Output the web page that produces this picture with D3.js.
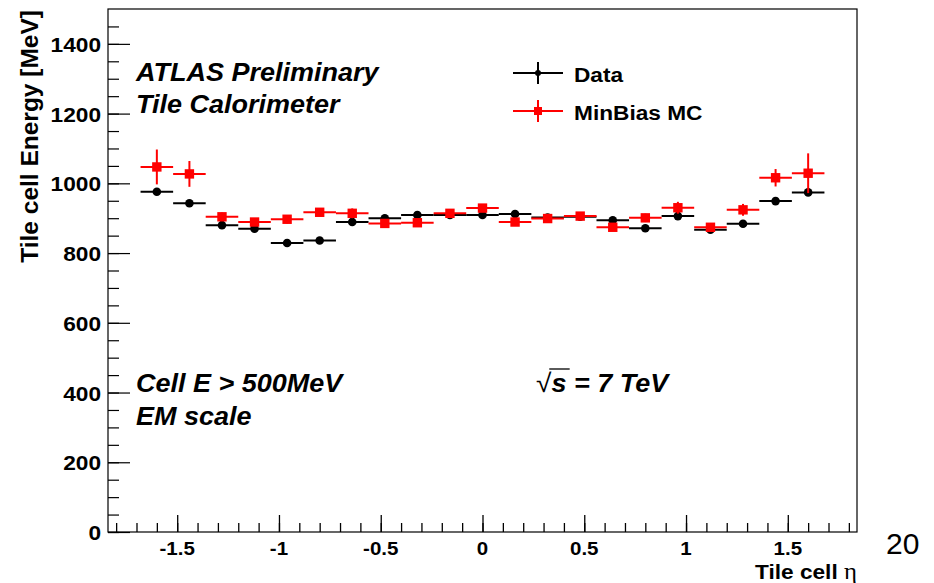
<!DOCTYPE html>
<html>
<head>
<meta charset="utf-8">
<script src="https://cdn.jsdelivr.net/npm/d3@7"></script>
<style>
  body { margin: 0; background: #fff; }
  text { font-family: "Liberation Sans", Arial, sans-serif; }
</style>
</head>
<body>
<svg id="chart" width="934" height="583"></svg>
<script>
// bin centres in eta (bin width 0.16)
const etaBins = [-1.6, -1.44, -1.28, -1.12, -0.96, -0.8, -0.64, -0.48, -0.32, -0.16, 0,
                 0.16, 0.32, 0.48, 0.64, 0.8, 0.96, 1.12, 1.28, 1.44, 1.6];
const binHalfWidth = 0.08;

// Data
const dataE   = [976, 943, 880, 870, 829, 836, 889, 900, 909, 909, 909,
                 912, 902, 904, 894, 871, 906, 867, 884, 949, 974];
const dataErr = [5, 5, 4, 4, 4, 4, 4, 4, 4, 4, 4, 4, 4, 4, 4, 4, 4, 4, 4, 5, 5];

// MinBias MC
const mcE   = [1047, 1027, 904, 889, 897, 917, 914, 885, 887, 914, 929,
               889, 899, 906, 874, 901, 930, 874, 924, 1016, 1029];
const mcErr = [50, 37, 12, 10, 12, 8, 14, 10, 10, 10, 10,
               10, 10, 10, 10, 12, 17, 8, 17, 25, 57];

const xTickLabels = [-1.5, -1, -0.5, 0, 0.5, 1, 1.5];
const yTickLabels = [0, 200, 400, 600, 800, 1000, 1200, 1400];

const svg = d3.select("#chart");
const margin = { top: 9, right: 77, bottom: 51, left: 108 };
const W = 934, H = 583;
const stretch = 1.08; // the original picture is a little wider than tall

const x = d3.scaleLinear().domain([-1.84, 1.84]).range([margin.left, W - margin.right]);
const y = d3.scaleLinear().domain([0, 1500]).range([H - margin.bottom, margin.top]);

// frame
svg.append("rect")
  .attr("x", margin.left).attr("y", margin.top)
  .attr("width", W - margin.left - margin.right)
  .attr("height", H - margin.top - margin.bottom)
  .attr("fill", "none").attr("stroke", "#000").attr("stroke-width", 1.2);

// x axis: ticks pointing up into the frame
const xAxisMinor = d3.axisTop(x).tickValues(d3.range(-18, 19).map(d => d / 10))
  .tickSize(9).tickFormat("");
const xAxisMajor = d3.axisTop(x).tickValues(xTickLabels).tickSize(17).tickFormat("");
[xAxisMinor, xAxisMajor].forEach(ax => {
  const g = svg.append("g").attr("transform", `translate(0,${y(0)})`).call(ax);
  g.select(".domain").remove();
  g.selectAll("line").attr("stroke", "#000").attr("stroke-width", 1.3);
});
svg.append("g").selectAll("text").data(xTickLabels).join("text")
  .attr("transform", d => `translate(${x(d)},${y(0) + 23}) scale(${stretch},1)`)
  .attr("text-anchor", "middle")
  .attr("font-size", 19).attr("font-weight", "bold")
  .text(d => d);

// y axis: ticks pointing right into the frame
const yAxisMinor = d3.axisRight(y).tickValues(d3.range(0, 1500, 50)).tickSize(11).tickFormat("");
const yAxisMajor = d3.axisRight(y).tickValues(yTickLabels).tickSize(22).tickFormat("");
[yAxisMinor, yAxisMajor].forEach(ax => {
  const g = svg.append("g").attr("transform", `translate(${margin.left},0)`).call(ax);
  g.select(".domain").remove();
  g.selectAll("line").attr("stroke", "#000").attr("stroke-width", 1.2);
});
svg.append("g").selectAll("text").data(yTickLabels).join("text")
  .attr("transform", d => `translate(${margin.left - 7},${y(d) + 8}) scale(${stretch},1)`)
  .attr("text-anchor", "end")
  .attr("font-size", 21).attr("font-weight", "bold")
  .text(d => d);

// axis titles
svg.append("text")
  .attr("transform", `translate(38,${margin.top + 1}) rotate(-90)`)
  .attr("text-anchor", "end")
  .attr("font-size", 24.5).attr("font-weight", "bold")
  .text("Tile cell Energy [MeV]");

const xt = svg.append("text")
  .attr("transform", `translate(${W - margin.right},579) scale(${stretch},1)`)
  .attr("text-anchor", "end")
  .attr("font-size", 21).attr("font-weight", "bold");
xt.append("tspan").text("Tile cell ");
xt.append("tspan").attr("font-family", "'Liberation Serif', serif").attr("font-weight", "normal")
  .attr("font-size", 23).text("η");

svg.append("text").attr("x", 886).attr("y", 554)
  .attr("font-size", 30).text("20");

// error bars + markers
function drawSeries(vals, errs, color, shape) {
  const g = svg.append("g");
  g.selectAll("line.h").data(etaBins).join("line")
    .attr("x1", d => x(d - binHalfWidth)).attr("x2", d => x(d + binHalfWidth))
    .attr("y1", (d, i) => y(vals[i])).attr("y2", (d, i) => y(vals[i]))
    .attr("stroke", color).attr("stroke-width", 2);
  g.selectAll("line.v").data(etaBins).join("line")
    .attr("x1", d => x(d)).attr("x2", d => x(d))
    .attr("y1", (d, i) => y(vals[i] - errs[i])).attr("y2", (d, i) => y(vals[i] + errs[i]))
    .attr("stroke", color).attr("stroke-width", 2);
  if (shape === "circle") {
    g.selectAll("circle").data(etaBins).join("circle")
      .attr("cx", d => x(d)).attr("cy", (d, i) => y(vals[i]))
      .attr("r", 4.3).attr("fill", color);
  } else {
    g.selectAll("rect").data(etaBins).join("rect")
      .attr("x", d => x(d) - 4.7).attr("y", (d, i) => y(vals[i]) - 4.7)
      .attr("width", 9.4).attr("height", 9.4).attr("fill", color);
  }
}
drawSeries(dataE, dataErr, "#000", "circle");
drawSeries(mcE, mcErr, "#ff0000", "square");

// legend
const legend = [
  { label: "Data", color: "#000", shape: "circle", y: 73 },
  { label: "MinBias MC", color: "#ff0000", shape: "square", y: 111 }
];
legend.forEach(l => {
  const g = svg.append("g");
  g.append("line").attr("x1", 513).attr("x2", 563).attr("y1", l.y).attr("y2", l.y)
    .attr("stroke", l.color).attr("stroke-width", 2);
  g.append("line").attr("x1", 538).attr("x2", 538).attr("y1", l.y - 11).attr("y2", l.y + 11)
    .attr("stroke", l.color).attr("stroke-width", 2);
  if (l.shape === "circle") {
    g.append("circle").attr("cx", 538).attr("cy", l.y).attr("r", 3).attr("fill", l.color);
  } else {
    g.append("rect").attr("x", 534).attr("y", l.y - 4).attr("width", 8).attr("height", 8)
      .attr("fill", l.color);
  }
  g.append("text").attr("transform", `translate(574,${l.y + 9}) scale(${stretch},1)`)
    .attr("font-size", 21).attr("font-weight", "bold").text(l.label);
});

// annotations
const notes = [
  { t: "ATLAS Preliminary", x: 136, y: 81 },
  { t: "Tile Calorimeter", x: 136, y: 113 },
  { t: "Cell E > 500MeV", x: 136, y: 392 },
  { t: "EM scale", x: 136, y: 425 }
];
svg.append("g").selectAll("text").data(notes).join("text")
  .attr("transform", d => `translate(${d.x},${d.y}) scale(${stretch},1)`)
  .attr("font-size", 25).attr("font-weight", "bold").attr("font-style", "italic")
  .text(d => d.t);

// sqrt(s) = 7 TeV
const sqrtG = svg.append("g").attr("transform", `translate(536,392) scale(${stretch},1)`);
const sq = sqrtG.append("text").attr("font-size", 26).text("√");
const sqW = sq.node().getComputedTextLength();
const sText = sqrtG.append("text").attr("x", sqW)
  .attr("font-size", 25).attr("font-weight", "bold").attr("font-style", "italic");
const sSpan = sText.append("tspan").text("s");
sText.append("tspan").text(" = 7 TeV");
const sW = sSpan.node().getComputedTextLength();
sqrtG.append("line").attr("x1", sqW - 2).attr("x2", sqW + sW + 3)
  .attr("y1", -23).attr("y2", -23).attr("stroke", "#000").attr("stroke-width", 1.3);
</script>
</body>
</html>
